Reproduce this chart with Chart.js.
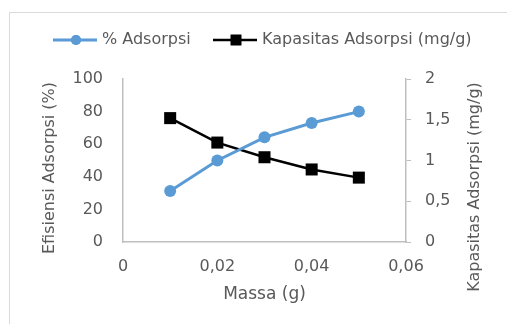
<!DOCTYPE html>
<html>
<head>
<meta charset="utf-8">
<script src="https://cdn.jsdelivr.net/npm/chart.js@4"></script>
<style>
  body { margin: 0; background: #fff; }
  #wrap { width: 507px; height: 324px; }
</style>
</head>
<body>
<div id="wrap"><canvas id="chart1" width="507" height="324"></canvas></div>
<script>
const massa = [0.01, 0.02, 0.03, 0.04, 0.05];
const adsorpsi = [31.3, 50, 64.2, 73, 80];
const kapasitas = [1.52, 1.22, 1.04, 0.89, 0.79];
const labelAdsorpsi = '% Adsorpsi';
const labelKapasitas = 'Kapasitas Adsorpsi (mg/g)';
const judulX = 'Massa (g)';
const judulY = 'Efisiensi Adsorpsi (%)';
const judulY1 = 'Kapasitas Adsorpsi (mg/g)';

const fontFam = "'DejaVu Sans', sans-serif";
const txtColor = '#595959';
const axisColor = '#bfbfbf';

function koma(v) {
    return Number(v.toFixed(2)).toString().replace('.', ',');
}

// frame, legend and the two vertical titles drawn by hand (excel style)
const framePlugin = {
    id: 'frame',
    beforeDraw(chart) {
        const ctx = chart.ctx;
        ctx.save();
        ctx.strokeStyle = '#d9d9d9';
        ctx.lineWidth = 1;
        ctx.beginPath();
        ctx.moveTo(9.5, 330);
        ctx.lineTo(9.5, 12.5);
        ctx.lineTo(520, 12.5);
        ctx.stroke();
        ctx.restore();
    },
    afterDraw(chart) {
        const ctx = chart.ctx;
        const items = [
            { x: 53, ds: chart.data.datasets[0], r: 5 },
            { x: 213, ds: chart.data.datasets[1], r: 7.5 }
        ];
        const y = 40;
        ctx.save();
        ctx.font = '16px ' + fontFam;
        ctx.textBaseline = 'middle';
        items.forEach(function (it) {
            ctx.strokeStyle = it.ds.borderColor;
            ctx.lineWidth = it.ds.borderWidth;
            ctx.beginPath();
            ctx.moveTo(it.x, y);
            ctx.lineTo(it.x + 44, y);
            ctx.stroke();
            ctx.fillStyle = it.ds.pointBackgroundColor;
            Chart.helpers.drawPoint(ctx, {
                pointStyle: it.ds.pointStyle,
                radius: it.r,
                borderWidth: 0
            }, it.x + 23, y);
            ctx.fill();
            ctx.fillStyle = txtColor;
            ctx.textAlign = 'left';
            ctx.fillText(it.ds.label, it.x + 49, y);
        });

        ctx.textAlign = 'center';
        ctx.fillStyle = txtColor;
        [[50, 168, judulY], [475, 187, judulY1]].forEach(function (t) {
            ctx.save();
            ctx.translate(t[0], t[1]);
            ctx.rotate(-Math.PI / 2);
            ctx.fillText(t[2], 0, 0);
            ctx.restore();
        });
        ctx.restore();
    }
};

const ctx1 = document.getElementById('chart1').getContext('2d');
const chart1 = new Chart(ctx1, {
    type: 'line',
    data: {
        datasets: [{
            label: labelAdsorpsi,
            data: massa.map((m, i) => ({ x: m, y: adsorpsi[i] })),
            yAxisID: 'y',
            borderColor: '#5b9bd5',
            backgroundColor: '#5b9bd5',
            pointBackgroundColor: '#5b9bd5',
            pointBorderColor: '#5b9bd5',
            borderWidth: 3,
            pointStyle: 'circle',
            pointRadius: 6,
            pointBorderWidth: 0
        }, {
            label: labelKapasitas,
            data: massa.map((m, i) => ({ x: m, y: kapasitas[i] })),
            yAxisID: 'y1',
            borderColor: '#000000',
            backgroundColor: '#000000',
            pointBackgroundColor: '#000000',
            pointBorderColor: '#000000',
            borderWidth: 2.5,
            pointStyle: 'rect',
            pointRadius: 8.5,
            pointBorderWidth: 0
        }]
    },
    options: {
        responsive: false,
        animation: false,
        layout: { padding: { top: 79, left: 0, right: 0, bottom: 0 } },
        plugins: {
            legend: { display: false },
            tooltip: { enabled: false }
        },
        scales: {
            x: {
                type: 'linear',
                min: 0,
                max: 0.06,
                ticks: {
                    stepSize: 0.02,
                    color: txtColor,
                    font: { family: fontFam, size: 16 },
                    padding: 15,
                    maxRotation: 0,
                    callback: v => koma(v)
                },
                grid: { display: true, drawOnChartArea: false, drawTicks: false },
                border: { color: axisColor, width: 1.5 },
                title: {
                    display: true,
                    text: judulX,
                    color: txtColor,
                    font: { family: fontFam, size: 17 },
                    padding: { top: 0, bottom: 19 }
                },
                afterFit: s => { s.height = 324 - 242; }
            },
            y: {
                position: 'left',
                min: 0,
                max: 100,
                ticks: {
                    stepSize: 20,
                    color: txtColor,
                    font: { family: fontFam, size: 16 },
                    padding: 20
                },
                grid: { display: true, drawOnChartArea: false, drawTicks: false },
                border: { color: axisColor, width: 1.5 },
                afterFit: s => { s.width = 123; }
            },
            y1: {
                position: 'right',
                min: 0,
                max: 2,
                ticks: {
                    stepSize: 0.5,
                    color: txtColor,
                    font: { family: fontFam, size: 16 },
                    padding: 14,
                    callback: v => koma(v)
                },
                grid: { display: true, drawOnChartArea: false, drawTicks: true, tickLength: 5, color: axisColor },
                border: { color: axisColor, width: 1.5 },
                afterFit: s => { s.width = 507 - 406; }
            }
        }
    },
    plugins: [framePlugin]
});
</script>
</body>
</html>
